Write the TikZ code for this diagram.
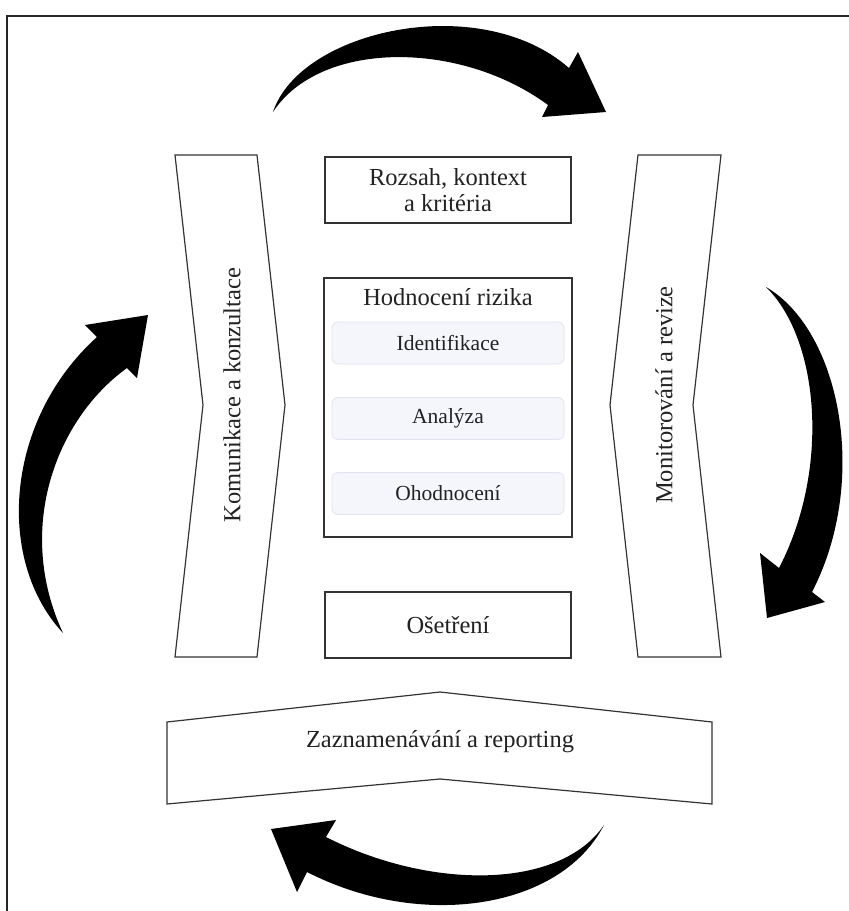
\documentclass[tikz,border=0pt]{standalone}
\usepackage{fontspec}
\setmainfont{Liberation Serif}
\definecolor{subfill}{HTML}{F4F6FC}
\definecolor{subline}{HTML}{E0E4EE}
\definecolor{ink}{HTML}{222222}
\definecolor{edge}{HTML}{333333}
\begin{document}
\begin{tikzpicture}[x=1pt,y=-1pt,
  box/.style={draw=edge, line width=1.2pt, fill=white},
  subbox/.style={draw=subline, fill=subfill, rounded corners=6pt, line width=0.8pt,
    minimum width=232pt, minimum height=42pt, font=\fontsize{21.5}{25}\selectfont, text=ink},
  lbl/.style={font=\fontsize{24.5}{28}\selectfont, text=ink, align=center},
  bigarrow/.style={fill=black}]
\useasboundingbox (0,0) rectangle (849,911);
\fill[white] (0,0) rectangle (849,911);
\draw[line width=2.4pt, black!85] (7,911) -- (7,16) -- (849,16);

% central boxes
\node[box, lbl, minimum width=246pt, minimum height=66pt] (scope) at (448,190) {Rozsah, kontext\\[-2pt]a kritéria};
\node[box, minimum width=248pt, minimum height=259pt] (assess) at (448,407.5) {};
\node[lbl] (assesst) at (448,297) {Hodnocení rizika};
\node[subbox] (ident) at (448,343) {Identifikace};
\node[subbox] (anal) at (448,418.5) {Analýza};
\node[subbox] (eval) at (448,493.5) {Ohodnocení};
\node[box, lbl, minimum width=246pt, minimum height=66pt] (treat) at (448,625) {Ošetření};

% chevron shapes
\draw[box] (175,155) -- (257,155) -- (285,405) -- (257,657) -- (175,657) -- (203,405) -- cycle;
\node[lbl, rotate=90] (comm) at (232,395) {Komunikace a konzultace};
\draw[box] (638,155) -- (721,155) -- (693,405) -- (721,657) -- (638,657) -- (610,405) -- cycle;
\node[lbl, rotate=90] (monit) at (664,395) {Monitorování a revize};
\draw[box] (167,722) -- (440,692) -- (712,722) -- (712,804) -- (440,779) -- (167,804) -- cycle;
\node[lbl] (record) at (440,742) {Zaznamenávání a reporting};

% big curved arrows
% top
\fill[bigarrow] (273,112) .. controls (300,30) and (480,-10) .. (569,68)
  -- (578,52) -- (606,112) -- (542,117) -- (548,105)
  .. controls (460,40) and (320,40) .. (273,112) -- cycle;
% right
\fill[bigarrow] (766,287) .. controls (840,330) and (870,480) .. (812,592)
  -- (825,602) -- (767,618) -- (760,553) -- (779,568)
  .. controls (830,470) and (820,340) .. (766,287) -- cycle;
% bottom
\fill[bigarrow] (604,825) .. controls (560,910) and (420,930) .. (307,872)
  -- (297,892) -- (271,829) -- (336,820) -- (326,837)
  .. controls (430,890) and (560,890) .. (604,825) -- cycle;
% left
\fill[bigarrow] (63,633) .. controls (-5,560) and (5,420) .. (97,337)
  -- (85,325) -- (148,315) -- (137,378) -- (127,368)
  .. controls (55,420) and (15,530) .. (63,633) -- cycle;
\end{tikzpicture}
\end{document}
